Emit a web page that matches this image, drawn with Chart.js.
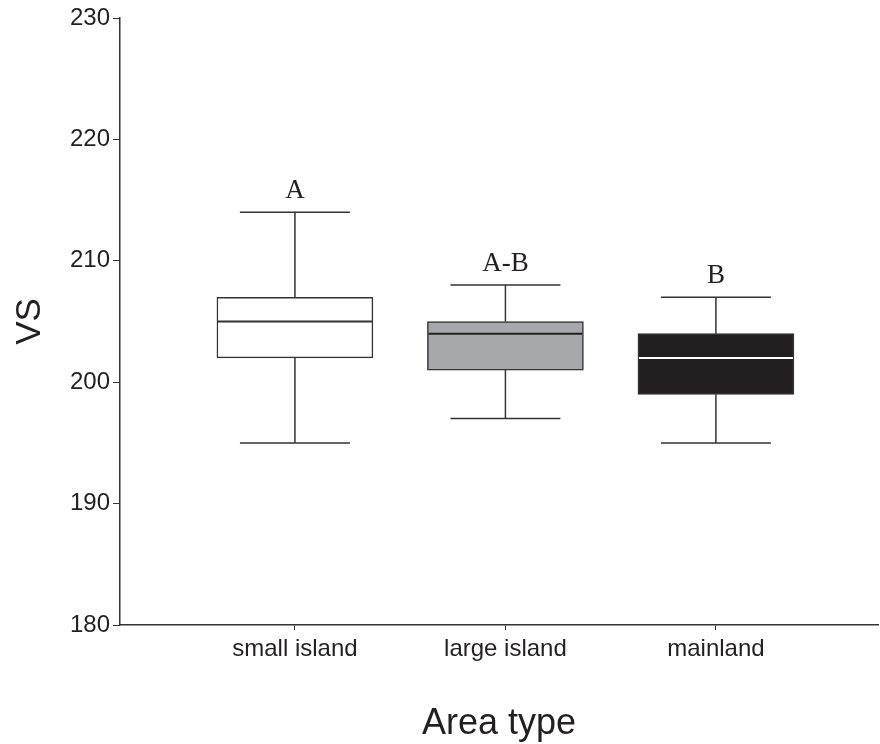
<!DOCTYPE html>
<html>
<head>
<meta charset="utf-8">
<script src="https://cdn.jsdelivr.net/npm/chart.js@4/dist/chart.umd.min.js"></script>
<style>
  html, body { margin: 0; padding: 0; background: #fff; }
  #wrap { width: 880px; height: 744px; }
</style>
</head>
<body>
<div id="wrap"><canvas id="myChart"></canvas></div>
<script>
// data
const categories = ["small island", "large island", "mainland"];
const whiskerMin = [195, 197, 195];
const q1 = [202, 201, 199];
const median = [205, 204, 202];
const q3 = [207, 205, 204];
const whiskerMax = [214, 208, 207];
const groupLetters = ["A", "A-B", "B"];
const yTicks = [180, 190, 200, 210, 220, 230];

const boxFill = ["#ffffff", "#a7a8ab", "#231f20"];
const medianColor = ["#333333", "#231f20", "#ffffff"];
const lineColor = "#333333";

// whiskers, caps, medians and letters
const boxExtras = {
    id: "boxExtras",
    afterDatasetsDraw(chart) {
        const ctx = chart.ctx;
        const x = chart.scales.x;
        const y = chart.scales.y;
        const meta = chart.getDatasetMeta(0);
        ctx.save();
        for (let i = 0; i < categories.length; i++) {
            const cx = x.getPixelForValue(i + 1);
            const bar = meta.data[i];
            const half = bar.width / 2;
            const cap = 55;
            ctx.strokeStyle = lineColor;
            ctx.lineWidth = 1.5;
            ctx.beginPath();
            ctx.moveTo(cx, y.getPixelForValue(q3[i]));
            ctx.lineTo(cx, y.getPixelForValue(whiskerMax[i]));
            ctx.moveTo(cx, y.getPixelForValue(q1[i]));
            ctx.lineTo(cx, y.getPixelForValue(whiskerMin[i]));
            ctx.moveTo(cx - cap, y.getPixelForValue(whiskerMax[i]));
            ctx.lineTo(cx + cap, y.getPixelForValue(whiskerMax[i]));
            ctx.moveTo(cx - cap, y.getPixelForValue(whiskerMin[i]));
            ctx.lineTo(cx + cap, y.getPixelForValue(whiskerMin[i]));
            ctx.stroke();

            ctx.strokeStyle = medianColor[i];
            ctx.lineWidth = 2;
            ctx.beginPath();
            ctx.moveTo(cx - half + 1, y.getPixelForValue(median[i]));
            ctx.lineTo(cx + half - 1, y.getPixelForValue(median[i]));
            ctx.stroke();

            ctx.fillStyle = "#231f20";
            ctx.font = "27px 'Liberation Serif', 'DejaVu Serif', serif";
            ctx.textAlign = "center";
            ctx.textBaseline = "alphabetic";
            ctx.fillText(groupLetters[i], cx, y.getPixelForValue(whiskerMax[i]) - 14);
        }
        ctx.restore();
    }
};

const config = {
    type: "bar",
    data: {
        datasets: [{
            label: "VS",
            data: categories.map((c, i) => ({ x: i + 1, y: [q1[i], q3[i]] })),
            backgroundColor: boxFill,
            borderColor: lineColor,
            borderWidth: 1.5,
            borderSkipped: false,
            barThickness: 156
        }]
    },
    options: {
        responsive: true,
        maintainAspectRatio: false,
        animation: false,
        layout: { padding: { top: 18, right: 2, left: 0, bottom: 0 } },
        plugins: {
            legend: { display: false },
            tooltip: { enabled: false }
        },
        scales: {
            x: {
                type: "linear",
                offset: false,
                min: 0.169,
                max: 3.77,
                afterBuildTicks: (scale) => {
                    scale.ticks = categories.map((c, i) => ({ value: i + 1 }));
                },
                afterFit: (scale) => { scale.height = 119; },
                border: { display: true, color: lineColor, width: 1.5 },
                grid: { display: true, offset: false, drawOnChartArea: false, drawTicks: true, tickLength: 5, color: lineColor },
                ticks: {
                    callback: (v) => categories[v - 1],
                    font: { family: "'Liberation Sans', Arial, sans-serif", size: 24 },
                    color: "#231f20",
                    padding: 5,
                    maxRotation: 0,
                    autoSkip: false
                },
                title: {
                    display: true,
                    text: "Area type",
                    font: { family: "'Liberation Sans', Arial, sans-serif", size: 36 },
                    color: "#231f20",
                    padding: { top: 0, bottom: -2 }
                }
            },
            y: {
                min: 180,
                max: 230,
                afterBuildTicks: (scale) => {
                    scale.ticks = yTicks.map((v) => ({ value: v }));
                },
                afterFit: (scale) => { scale.width = 120; },
                border: { display: true, color: lineColor, width: 1.5 },
                grid: { display: true, drawOnChartArea: false, drawTicks: true, tickLength: 7, color: lineColor },
                ticks: {
                    font: { family: "'Liberation Sans', Arial, sans-serif", size: 24 },
                    color: "#231f20",
                    padding: 3
                },
                title: {
                    display: true,
                    text: "VS",
                    font: { family: "'Liberation Sans', Arial, sans-serif", size: 35 },
                    color: "#231f20",
                    padding: { top: 9, bottom: 0 }
                }
            }
        }
    },
    plugins: [boxExtras]
};

new Chart(document.getElementById("myChart"), config);
</script>
</body>
</html>
